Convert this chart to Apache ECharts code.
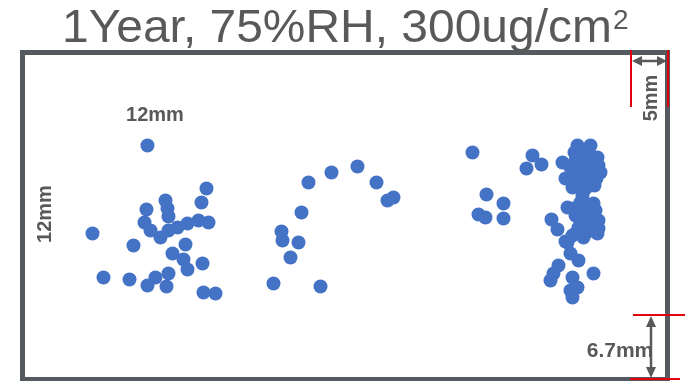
<!DOCTYPE html>
<html>
<head>
<meta charset="utf-8">
<script src="https://cdn.jsdelivr.net/npm/echarts@6/dist/echarts.min.js"></script>
<style>
  html, body { margin: 0; padding: 0; background: #fff; }
  #chart { width: 685px; height: 381px; }
</style>
</head>
<body>
<div id="chart"></div>
<script>
// positions inside the plate, px from top-left corner of the frame
var group_left = [
    [125, 93], [184, 136], [179, 150], [143, 148], [124, 157], [145, 156], [146, 164],
    [122, 170], [128, 178], [138, 185], [146, 178], [155, 175], [165, 171], [176, 168],
    [186, 170], [70, 181], [111, 193], [163, 192], [150, 201], [161, 207], [165, 217],
    [180, 211], [81, 225], [107, 227], [133, 225], [146, 221], [125, 233], [144, 234],
    [181, 240], [193, 241]
];
var group_mid = [
    [251, 231], [298, 234], [268, 205], [276, 190], [260, 188], [259, 179], [279, 160],
    [286, 130], [309, 120], [335, 114], [354, 130], [365, 148], [371, 145]
];
var group_right = [
    [450, 100], [510, 103], [519, 112], [504, 116], [464, 142], [481, 151], [456, 162],
    [463, 165], [481, 166], [529, 167], [535, 177], [571, 221]
];
var group_dense = [
    [555, 93], [568, 93], [562, 98], [575, 105], [540, 110], [548, 115], [558, 106],
    [566, 111], [578, 120], [570, 125], [555, 125], [550, 135], [563, 136], [572, 133],
    [556, 118], [545, 155], [558, 150], [571, 151], [551, 156], [568, 155], [576, 168],
    [575, 181], [561, 185], [556, 175], [565, 170], [568, 163], [545, 190], [548, 201],
    [556, 208], [536, 213], [531, 221], [528, 228], [550, 225], [548, 238], [555, 235],
    [550, 245], [543, 189], [560, 143], [553, 163],
    [552, 100], [568, 103], [563, 118], [570, 113], [576, 113], [558, 128], [568, 133],
    [543, 126], [553, 108], [574, 126], [561, 106],
    [563, 158], [573, 158], [558, 166], [570, 174], [564, 180], [553, 181], [576, 176],
    [561, 150], [550, 183]
];

var plate_w = 645;
var plate_h = 327;

var font = '"Liberation Sans", Arial, sans-serif';
var txt_color = '#595959';
var red = '#e3000f';

var chart = echarts.init(document.getElementById('chart'));

var option = {
    animation: false,
    grid: {
        left: 22.5,
        top: 52.5,
        width: 645,
        height: 327,
        show: true,
        borderColor: '#555a60',
        borderWidth: 5,
        backgroundColor: '#fff'
    },
    xAxis: { type: 'value', min: 0, max: plate_w, show: false },
    yAxis: { type: 'value', min: 0, max: plate_h, inverse: true, show: false },
    series: [
        { type: 'scatter', data: group_left },
        { type: 'scatter', data: group_mid },
        { type: 'scatter', data: group_right },
        { type: 'scatter', data: group_dense }
    ].map(function(s) {
        s.symbolSize = 14;
        s.itemStyle = { color: '#4472c4', opacity: 1 };
        return s;
    }),
    graphic: [
        // title, with the superscript 2 as its own text
        { type: 'text', x: 62, y: 29, scaleX: 1.02, style: { text: '1Year, 75%RH, 300ug/cm', font: '47px ' + font, fill: txt_color, align: 'left', verticalAlign: 'middle' } },
        { type: 'text', x: 613, y: 21, style: { text: '2', font: '28px ' + font, fill: txt_color, align: 'left', verticalAlign: 'middle' } },

        // size labels
        { type: 'text', x: 155, y: 115, style: { text: '12mm', font: 'bold 20px ' + font, fill: txt_color, align: 'center', verticalAlign: 'middle' } },
        { type: 'text', x: 45, y: 214, rotation: Math.PI / 2, style: { text: '12mm', font: 'bold 20px ' + font, fill: txt_color, align: 'center', verticalAlign: 'middle' } },
        { type: 'text', x: 651, y: 98, rotation: Math.PI / 2, style: { text: '5mm', font: 'bold 20px ' + font, fill: txt_color, align: 'center', verticalAlign: 'middle' } },
        { type: 'text', x: 620, y: 351, style: { text: '6.7mm', font: 'bold 21px ' + font, fill: txt_color, align: 'center', verticalAlign: 'middle' } },

        // red guides, top right
        { type: 'line', shape: { x1: 631, y1: 50, x2: 631, y2: 107 }, style: { stroke: red, lineWidth: 2 } },
        { type: 'line', shape: { x1: 668, y1: 50, x2: 668, y2: 107 }, style: { stroke: red, lineWidth: 2 } },
        // 5mm arrow
        { type: 'line', shape: { x1: 638, y1: 61, x2: 661, y2: 61 }, style: { stroke: txt_color, lineWidth: 2.5 } },
        { type: 'polygon', shape: { points: [[632, 61], [642, 56], [642, 66]] }, style: { fill: txt_color } },
        { type: 'polygon', shape: { points: [[667, 61], [657, 56], [657, 66]] }, style: { fill: txt_color } },

        // red guides, bottom right
        { type: 'line', shape: { x1: 633, y1: 315, x2: 685, y2: 315 }, style: { stroke: red, lineWidth: 2 } },
        { type: 'line', shape: { x1: 630, y1: 379, x2: 680, y2: 379 }, style: { stroke: red, lineWidth: 2 } },
        // 6.7mm arrow
        { type: 'line', shape: { x1: 651, y1: 322, x2: 651, y2: 373 }, style: { stroke: txt_color, lineWidth: 2.5 } },
        { type: 'polygon', shape: { points: [[651, 316], [646, 327], [656, 327]] }, style: { fill: txt_color } },
        { type: 'polygon', shape: { points: [[651, 378], [646, 367], [656, 367]] }, style: { fill: txt_color } }
    ]
};

chart.setOption(option);
</script>
</body>
</html>
